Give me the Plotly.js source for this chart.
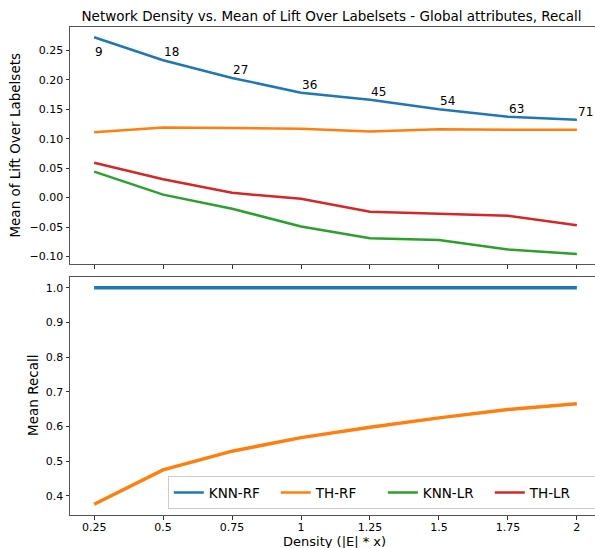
<!DOCTYPE html>
<html><head><meta charset="utf-8">
<script src="https://cdn.plot.ly/plotly-3.0.1.min.js"></script>
<style>html,body{margin:0;padding:0;overflow:hidden;background:#fff}</style>
</head><body><div id="chart"></div>
<script>
const density = [0.25, 0.5, 0.75, 1, 1.25, 1.5, 1.75, 2];
const densityLabels = ["0.25", "0.5", "0.75", "1", "1.25", "1.5", "1.75", "2"];
const pointLabels = ["9", "18", "27", "36", "45", "54", "63", "71"];
// Top panel: mean of lift over labelsets
const liftKnnRf = [0.272, 0.233, 0.203, 0.178, 0.166, 0.150, 0.137, 0.132];
const liftThRf  = [0.111, 0.119, 0.118, 0.117, 0.112, 0.116, 0.115, 0.115];
const liftKnnLr = [0.044, 0.005, -0.019, -0.049, -0.069, -0.072, -0.088, -0.096];
const liftThLr  = [0.059, 0.031, 0.008, -0.002, -0.024, -0.027, -0.031, -0.047];
// Bottom panel: mean recall
const recallKnnRf = [1.0, 1.0, 1.0, 1.0, 1.0, 1.0, 1.0, 1.0];
const recallThRf  = [0.376, 0.475, 0.529, 0.568, 0.598, 0.625, 0.649, 0.666];

const C = {blue:'#1f77b4', orange:'#ff7f0e', green:'#2ca02c', red:'#d62728'};
const FONT = 'DejaVu Sans, sans-serif';

const traces = [
  {x: density, y: liftKnnRf, name: 'KNN-RF', mode: 'lines', line: {color: C.blue, width: 2.5}, xaxis: 'x2', yaxis: 'y2'},
  {x: density, y: liftThRf, name: 'TH-RF', mode: 'lines', line: {color: C.orange, width: 2.5}, xaxis: 'x2', yaxis: 'y2'},
  {x: density, y: liftKnnLr, name: 'KNN-LR', mode: 'lines', line: {color: C.green, width: 2.5}, xaxis: 'x2', yaxis: 'y2'},
  {x: density, y: liftThLr, name: 'TH-LR', mode: 'lines', line: {color: C.red, width: 2.5}, xaxis: 'x2', yaxis: 'y2'},
  {x: density, y: recallKnnRf, name: 'KNN-RF', mode: 'lines', line: {color: C.blue, width: 3.5}, xaxis: 'x', yaxis: 'y', showlegend: false},
  {x: density, y: recallThRf, name: 'TH-RF', mode: 'lines', line: {color: C.orange, width: 3.5}, xaxis: 'x', yaxis: 'y', showlegend: false}
];

const annotations = pointLabels.map((t, i) => ({
  text: t, x: density[i], y: liftKnnRf[i], xref: 'x2', yref: 'y2',
  xanchor: 'left', yanchor: 'bottom', showarrow: false,
  xshift: -1, yshift: i === 0 ? -24 : -1,
  font: {family: FONT, size: 12, color: '#000'}
}));
annotations.push({
  text: 'Mean of Lift Over Labelsets', xref: 'paper', yref: 'paper', x: 0, y: 0.757,
  xshift: -55, textangle: -90, showarrow: false, xanchor: 'center', yanchor: 'middle',
  font: {family: FONT, size: 13.5, color: '#000'}
});
annotations.push({
  text: 'Mean Recall', xref: 'paper', yref: 'paper', x: 0, y: 0.244,
  xshift: -37, textangle: -90, showarrow: false, xanchor: 'center', yanchor: 'middle',
  font: {family: FONT, size: 13.5, color: '#000'}
});
annotations.push({
  text: 'Density (|E| * x)', xref: 'paper', yref: 'paper', x: 0.498, y: 0,
  yshift: -26, showarrow: false, xanchor: 'center', yanchor: 'middle', borderpad: 0,
  font: {family: FONT, size: 13, color: '#000'}
});

const axisCommon = {
  showline: true, linecolor: '#555', linewidth: 1,
  ticks: 'outside', ticklen: 3.5, tickcolor: '#333', tickwidth: 1,
  showgrid: false, zeroline: false,
  tickfont: {family: FONT, size: 11, color: '#000'}
};

const layout = {
  width: 605, height: 548,
  margin: {l: 70, r: 4, t: 27, b: 33},
  paper_bgcolor: '#fff', plot_bgcolor: '#fff',
  title: {text: 'Network Density vs. Mean of Lift Over Labelsets - Global attributes, Recall',
          font: {family: FONT, size: 13.5, color: '#000'},
          x: 0.548, xanchor: 'center', y: 1 - 16/548, yanchor: 'middle', yref: 'container'},
  xaxis: Object.assign({}, axisCommon, {anchor: 'y', mirror: true, range: [0.1625, 2.0875], tickvals: density, ticktext: densityLabels, ticklabelstandoff: -2}),
  xaxis2: Object.assign({}, axisCommon, {anchor: 'y2', mirror: true, matches: 'x', range: [0.1625, 2.0875], tickvals: density, showticklabels: false}),
  yaxis: Object.assign({}, axisCommon, {mirror: false, domain: [0, 0.4877], range: [0.345, 1.031], dtick: 0.1, tick0: 0, tickformat: '.1f'}),
  yaxis2: Object.assign({}, axisCommon, {mirror: false, domain: [0.5143, 1], range: [-0.1128, 0.2895], dtick: 0.05, tick0: 0, tickformat: '.2f'}),
  showlegend: true,
  legend: {orientation: 'h', x: 0.994, y: 0.012, xanchor: 'right', yanchor: 'bottom', xref: 'paper', yref: 'paper',
           entrywidth: 62, entrywidthmode: 'pixels',
           bgcolor: 'rgba(255,255,255,0.8)', bordercolor: '#ccc', borderwidth: 1,
           font: {family: FONT, size: 13.5, color: '#000'}},
  annotations: annotations
};

Plotly.newPlot('chart', traces, layout, {displayModeBar: false, staticPlot: true});
</script></body></html>
